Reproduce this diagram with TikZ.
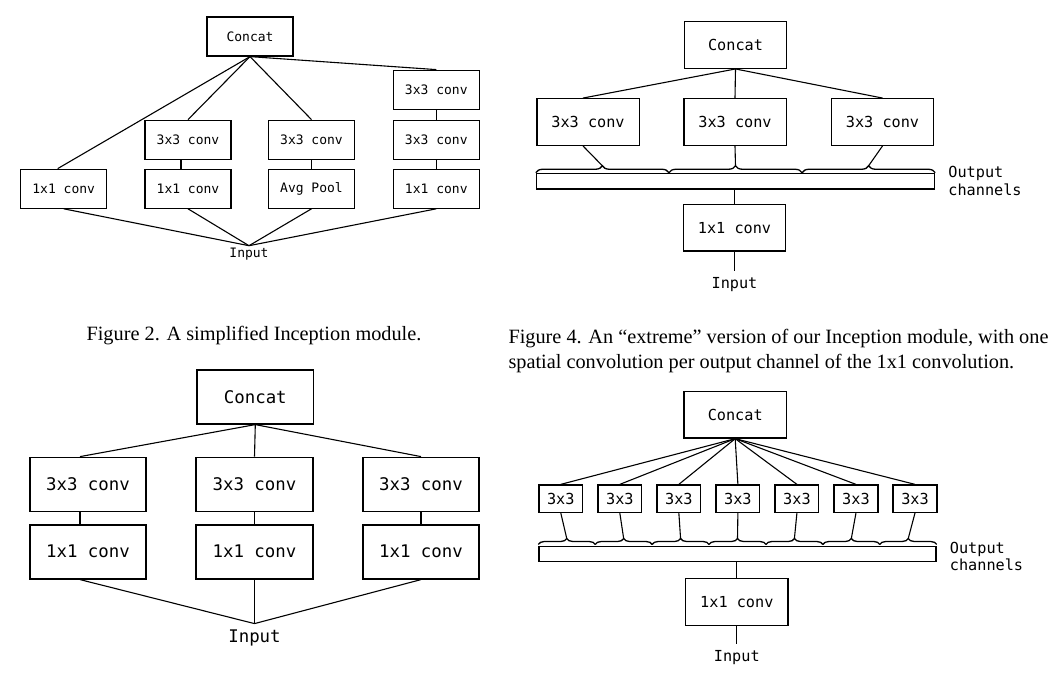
\documentclass[tikz,border=0pt]{standalone}
\usepackage{fontspec}
\setmainfont{Liberation Serif}
\setmonofont{DejaVu Sans Mono}
\usetikzlibrary{positioning,calc,decorations.pathreplacing}

\begin{document}
\begin{tikzpicture}[x=1pt,y=-1pt,
       SimpleBox/.style={draw,line width=1.2pt,minimum width=86pt,minimum height=39pt,inner sep=0pt,font=\ttfamily\fontsize{13}{15.6}\selectfont},
       WideBox/.style={draw,line width=1.8pt,minimum width=116.5pt,minimum height=54pt,inner sep=0pt,font=\ttfamily\fontsize{17.4}{21}\selectfont},
       SplitBox/.style={draw,line width=1.4pt,minimum width=102.4pt,minimum height=46.5pt,inner sep=0pt,font=\ttfamily\fontsize{15.2}{18}\selectfont},
       TinyBox/.style={SplitBox,minimum width=43.7pt,minimum height=27.3pt},
       ChanBar/.style={draw,line width=1.4pt,minimum width=398pt,minimum height=15.5pt,inner sep=0pt},
       ChanText/.style={align=left,inner sep=0pt,font=\ttfamily\fontsize{15.2}{17.7}\selectfont},
       InText/.style={inner xsep=0pt,inner ysep=#1},
       Wire/.style={line width=1.1pt},
       Curly/.style={decorate,decoration={brace,amplitude=#1},line width=1.3pt},
       Curly/.default=7pt,
       Caption/.style={inner sep=0pt,font=\fontsize{20.3}{24.5}\selectfont}]
       \useasboundingbox(0,0)rectangle(1061,673);
       \node[SimpleBox](SimpleConcat)at(250,36.5){Concat};
       \node[SimpleBox](SimpleOne1)at(63.7,188.7){1x1 conv};
       \node[SimpleBox](SimpleThree2)at(188,139.7){3x3 conv};
       \node[SimpleBox](SimpleOne2)at(188,188.7){1x1 conv};
       \node[SimpleBox](SimpleThree3)at(311.5,139.7){3x3 conv};
       \node[SimpleBox](SimplePool)at(311.5,188.7){Avg Pool};
       \node[SimpleBox](SimpleTop4)at(436.3,89.7){3x3 conv};
       \node[SimpleBox](SimpleThree4)at(436.3,139.7){3x3 conv};
       \node[SimpleBox](SimpleOne4)at(436.3,188.7){1x1 conv};
       \node[InText=2.6pt,anchor=north,font=\ttfamily\fontsize{13}{15.6}\selectfont](SimpleIn)at(249,245.7){Input};
       \draw[Wire](SimpleConcat.south)--([xshift=-6pt]SimpleOne1.north);
       \draw[Wire](SimpleConcat.south)--(SimpleThree2.north);
       \draw[Wire](SimpleConcat.south)--(SimpleThree3.north);
       \draw[Wire](SimpleConcat.south)--(SimpleTop4.north);
       \draw[Wire]([xshift=-7pt]SimpleThree2.south)--([xshift=-7pt]SimpleOne2.north);
       \draw[Wire](SimpleThree3.south)--(SimplePool.north);
       \draw[Wire](SimpleTop4.south)--(SimpleThree4.north);
       \draw[Wire](SimpleThree4.south)--(SimpleOne4.north);
       \foreach \b in {SimpleOne1,SimpleOne2,SimplePool,SimpleOne4}
              \draw[Wire](\b.south)--(SimpleIn.north);
       \node[Caption,anchor=base](SimpleCap)at(254,340){Figure 2. A simplified Inception module.};
       \node[WideBox](WideConcat)at(255.3,396.7){Concat};
       \foreach \x[count=\i]in{88,254.5,421}{
              \node[WideBox](WideThree\i)at(\x,484.5){3x3 conv};
              \node[WideBox](WideOne\i)at(\x,551.7){1x1 conv};
       }
       \node[InText=5.6pt,below=44pt of WideOne2,font=\ttfamily\fontsize{17.4}{21}\selectfont](WideIn){Input};
       \draw[Wire](WideConcat.south)--([xshift=-8pt]WideThree1.north);
       \draw[Wire]([xshift=-8pt]WideThree1.south)--([xshift=-8pt]WideOne1.north);
       \draw[Wire]([xshift=-8pt]WideOne1.south)--(WideIn.north);
       \foreach \i in {2,3}{
              \draw[Wire](WideConcat.south)--(WideThree\i.north);
              \draw[Wire](WideThree\i.south)--(WideOne\i.north);
              \draw[Wire](WideOne\i.south)--(WideIn.north);
       }
       \node[SplitBox](SplitConcat)at(735.5,45){Concat};
       \foreach \x[count=\i]in{588,735,882.5}
              \node[SplitBox](SplitConv\i)at(\x,122){3x3 conv};
       \node[ChanBar](SplitChan)at(735.5,181.2){};
       \node[ChanText,right=13pt of SplitChan](SplitLabel){Output\\channels};
       \node[SplitBox](SplitOne)at(734.5,227.8){1x1 conv};
       \node[InText=6pt,below=19pt of SplitOne,font=\ttfamily\fontsize{15.2}{18}\selectfont](SplitIn){Input};
       \draw[Wire](SplitConcat.south)--([xshift=-5pt]SplitConv1.north);
       \draw[Wire](SplitConcat.south)--(SplitConv2.north);
       \draw[Wire](SplitConcat.south)--(SplitConv3.north);
       \foreach \i[evaluate=\i as \a using (\i-1)/3,evaluate=\i as \e using \i/3,evaluate=\i as \m using (\i-0.5)/3]in{1,2,3}{
              \draw[Curly]($(SplitChan.north west)!\a!(SplitChan.north east)$)--($(SplitChan.north west)!\e!(SplitChan.north east)$);
              \coordinate(SplitTip\i)at($(SplitChan.north west)!\m!(SplitChan.north east)+(0,-7)$);
       }
       \draw[Wire]([xshift=-5pt]SplitConv1.south)--(SplitTip1);
       \draw[Wire](SplitConv2.south)--(SplitTip2);
       \draw[Wire](SplitConv3.south)--(SplitTip3);
       \draw[Wire](SplitOne.north)--(SplitOne.north|-SplitChan.south);
       \draw[Wire](SplitOne.south)--(SplitIn.north);
       \node[Caption,anchor=base west](ExtremeCapA)at(508.3,343.3){\makebox[540pt][s]{Figure 4. An ``extreme'' version of our Inception module, with one}};
       \node[Caption,anchor=base west](ExtremeCapB)at(508.3,368.3){spatial convolution per output channel of the 1x1 convolution.};
       \node[SplitBox](ExtremeConcat)at(735.2,414.7){Concat};
       \foreach \i in {1,...,7}
              \node[TinyBox](ExtremeConv\i)at({560.8+59.03*(\i-1)},498.7){3x3};
       \node[ChanBar,minimum width=397pt,minimum height=15pt](ExtremeChan)at(737.5,554.2){};
       \node[ChanText,right=13pt of ExtremeChan,yshift=-2.3pt](ExtremeLabel){Output\\channels};
       \node[SplitBox](ExtremeOne)at(736.8,602){1x1 conv};
       \node[InText=6pt,below=18.3pt of ExtremeOne,font=\ttfamily\fontsize{15.2}{18}\selectfont](ExtremeIn){Input};
       \foreach \i[evaluate=\i as \a using (\i-1)/7,evaluate=\i as \e using \i/7,evaluate=\i as \m using (\i-0.5)/7]in{1,...,7}{
              \draw[Wire](ExtremeConcat.south)--(ExtremeConv\i.north);
              \draw[Curly=6pt]($(ExtremeChan.north west)!\a!(ExtremeChan.north east)+(0,-1.5)$)--($(ExtremeChan.north west)!\e!(ExtremeChan.north east)+(0,-1.5)$);
              \coordinate(ExtremeTip\i)at($(ExtremeChan.north west)!\m!(ExtremeChan.north east)+(0,-7.5)$);
              \draw[Wire](ExtremeConv\i.south)--(ExtremeTip\i);
       }
       \draw[Wire](ExtremeOne.north)--(ExtremeOne.north|-ExtremeChan.south);
       \draw[Wire](ExtremeOne.south)--(ExtremeIn.north);
      \end{tikzpicture}
\end{document}
